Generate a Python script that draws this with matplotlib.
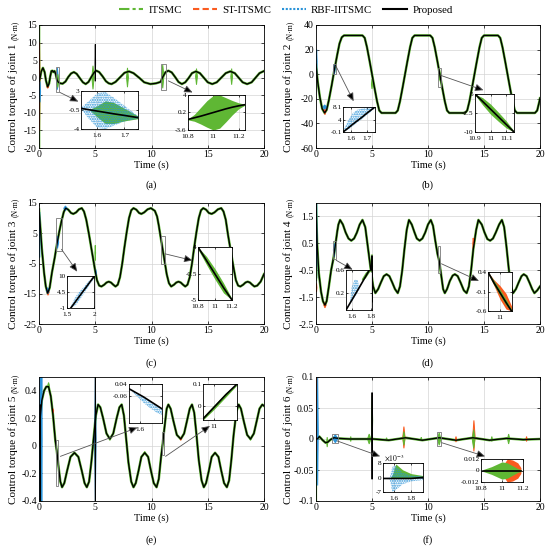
import numpy as np
import matplotlib.pyplot as plt
from matplotlib.patches import Rectangle
from matplotlib.lines import Line2D
from matplotlib.ticker import FuncFormatter

plt.rcParams['font.family'] = ['Liberation Serif', 'DejaVu Serif']
plt.rcParams['mathtext.fontset'] = 'stix'
plt.rcParams['axes.unicode_minus'] = False
plt.rcParams['hatch.linewidth'] = 1.0

methods = ['ITSMC', 'ST-ITSMC', 'RBF-IITSMC', 'Proposed']
colors = {'ITSMC': '#5fb734', 'ST-ITSMC': '#fa5b20', 'RBF-IITSMC': '#2a93d8', 'Proposed': 'black'}
lstyles = {'ITSMC': (0, (5, 1.5, 1.5, 1.5)), 'ST-ITSMC': (0, (3, 1.6)),
           'RBF-IITSMC': (0, (1, 0.8)), 'Proposed': '-'}
time_ticks = [0, 5, 10, 15, 20]

# ---- joint 1 ----
t1 = [0.0, 0.08, 0.2, 0.35, 0.5, 0.62, 0.77, 0.9, 1.0, 1.1, 1.2, 1.28, 1.38, 1.48, 1.6, 1.72, 1.9, 2.1,
      2.35, 2.6, 2.85, 3.1, 3.35, 3.6, 3.9, 4.15, 4.4, 4.65, 4.9, 5.1, 5.35, 5.65, 5.95, 6.2, 6.45, 6.8,
      7.2, 7.6, 8.0, 8.4, 8.9, 9.35, 9.9, 10.4, 10.8, 11.0, 11.25, 11.5, 11.8, 12.1, 12.4, 12.7, 13.0,
      13.3, 13.6, 13.95, 14.3, 14.65, 15.0, 15.4, 15.8, 16.2, 16.6, 17.0, 17.4, 17.75, 18.1, 18.5, 18.9,
      19.25, 19.6, 20.0]
tau1 = [-1.0, -0.3, 1.8, 2.8, 1.6, -0.8, -2.6, -1.6, 0.4, 1.9, 2.0, 1.6, 1.9, 1.1, -0.6, -1.3, -1.6, -1.7,
        -1.1, 0.2, 1.2, 1.6, 1.1, 0.0, -1.3, -1.8, -1.2, 0.2, 1.5, 2.0, 1.6, 0.4, -1.0, -1.6, -1.8, -1.2,
        0.1, 1.4, 1.8, 1.3, 0.0, -1.3, -1.8, -1.6, -1.2, 0.2, 1.6, 2.0, 1.5, 0.2, -1.2, -1.8, -1.3,
        -0.1, 1.3, 1.8, 1.3, 0.0, -1.3, -1.8, -1.3, 0.0, 1.3, 1.8, 1.3, 0.0, -1.3, -1.8, -1.3,
        0.0, 1.3, 1.9]
bursts1 = [('ITSMC', 0.02, 0.1, -20, 15), ('ST-ITSMC', 0.02, 0.08, -15, 10), ('RBF-IITSMC', 0.04, 0.14, -7, -1),
           ('ST-ITSMC', 0.7, 0.85, -3.0, -2.2), ('RBF-IITSMC', 1.55, 1.72, -3.4, 2.8), ('ITSMC', 1.6, 1.75, -2.8, 1.0),
           ('ITSMC', 4.7, 4.9, -3.3, 3.4), ('Proposed', 4.98, 5.03, -1.0, 9.5), ('ITSMC', 7.78, 7.95, -2.7, 2.8),
           ('ITSMC', 10.9, 11.1, -3.0, 3.7), ('ITSMC', 13.92, 14.08, -2.0, 2.6), ('ITSMC', 17.05, 17.2, -2.0, 2.6)]

# ---- joint 2 ----
t2 = [0.0, 0.15, 0.35, 0.55, 0.77, 0.95, 1.15, 1.4, 1.65, 1.9, 2.1, 2.3, 2.5,
      4.15, 4.35, 4.55, 4.8, 5.0, 5.2, 5.45, 5.65, 5.85,
      7.1, 7.3, 7.5, 7.75, 7.95, 8.15, 8.4, 8.6, 8.8,
      10.2, 10.4, 10.6, 10.85, 11.05, 11.25, 11.5, 11.7, 11.9,
      13.3, 13.5, 13.7, 13.95, 14.15, 14.35, 14.6, 14.8, 15.0,
      16.25, 16.45, 16.65, 16.9, 17.1, 17.3, 17.55, 17.75, 17.95,
      19.55, 19.75, 19.95, 20.0]
tau2 = [8, -6, -19, -28, -31.5, -29, -21, -9, 4, 16, 25, 30, 31.5,
        31.5, 29.5, 22, 10, 0, -10, -22, -29.5, -31.5,
        -31.5, -29.5, -22, -10, 0, 10, 22, 29.5, 31.5,
        31.5, 29.5, 22, 10, 0, -10, -22, -29.5, -31.5,
        -31.5, -29.5, -22, -10, 0, 10, 22, 29.5, 31.5,
        31.5, 29.5, 22, 10, 0, -10, -22, -29.5, -31.5,
        -31.5, -29.5, -22, -19.5]
bursts2 = [('RBF-IITSMC', 0.02, 0.1, 0, 20), ('ST-ITSMC', 0.7, 0.9, -33, -26), ('RBF-IITSMC', 0.6, 0.95, -28.5, -25),
           ('RBF-IITSMC', 1.55, 1.72, 0, 8), ('ITSMC', 4.95, 5.05, -12, -4), ('ITSMC', 10.95, 11.1, -5, 3)]

# ---- joint 3 ----
t3 = [0.0, 0.1, 0.25, 0.45, 0.6, 0.77, 0.95, 1.15, 1.4, 1.6, 1.8, 2.0, 2.2, 2.37,
      2.6, 2.85, 3.05, 3.3, 3.55, 3.8,
      4.0, 4.2, 4.45, 4.7, 4.95, 5.15, 5.35, 5.55,
      5.8, 6.0, 6.2, 6.4, 6.6, 6.8,
      7.0, 7.2, 7.4, 7.6, 7.8, 8.0, 8.2, 8.4,
      8.65, 8.9, 9.1, 9.35, 9.65, 9.95,
      10.3, 10.5, 10.65, 10.8, 11.0, 11.2, 11.35, 11.55, 11.75,
      12.0, 12.2, 12.4, 12.6, 12.8, 13.0,
      13.2, 13.4, 13.6, 13.8, 14.0, 14.2, 14.4, 14.6,
      14.85, 15.1, 15.35, 15.6, 15.9, 16.2,
      16.4, 16.6, 16.8, 17.05, 17.3, 17.5, 17.7, 17.9,
      18.15, 18.35, 18.55, 18.75, 18.95, 19.15,
      19.4, 19.7, 20.0]
tau3 = [13, 8, 0, -8, -12.5, -14.8, -13, -8, -3, 1.5, 5.5, 9, 12, 13.3,
        12.8, 11.7, 11.4, 11.9, 12.9, 13.3,
        12.2, 9.5, 4.5, -1.0, -6.5, -10.5, -12.3, -12.6,
        -12.0, -11.3, -11.0, -11.3, -12.0, -12.6,
        -12.0, -9.5, -5.0, 0.5, 5.5, 10.0, 12.6, 13.3,
        12.8, 11.7, 11.4, 11.9, 12.9, 13.3,
        12.4, 10.5, 7.5, 4.0, -0.5, -5.0, -8.5, -11.5, -12.6,
        -12.0, -11.3, -11.0, -11.3, -12.0, -12.6,
        -12.0, -9.5, -5.0, 0.5, 5.5, 10.0, 12.6, 13.3,
        12.8, 11.7, 11.4, 11.9, 12.9, 13.3,
        12.2, 9.5, 4.5, -1.0, -6.5, -10.5, -12.3, -12.6,
        -12.0, -11.3, -11.0, -11.3, -12.0, -12.6,
        -12.3, -11.0, -8.5]
bursts3 = [('RBF-IITSMC', 0.02, 0.1, -3, 12), ('ST-ITSMC', 0.7, 0.9, -15.5, -13.5), ('RBF-IITSMC', 0.65, 0.9, -15, -13),
           ('RBF-IITSMC', 1.55, 1.75, 0, 4), ('RBF-IITSMC', 2.2, 2.5, 12.5, 14), ('ITSMC', 4.97, 5.03, -4, 1),
           ('RBF-IITSMC', 5.0, 5.1, -9, -7)]

# ---- joint 4 ----
t4 = [0.0, 0.1, 0.25, 0.45, 0.62, 0.8, 0.95, 1.15, 1.35, 1.55, 1.7, 1.9, 2.0, 2.15, 2.4, 2.65, 2.9, 3.15,
      3.4, 3.65, 3.9, 4.15, 4.4, 4.65, 4.9, 5.1, 5.3, 5.55, 5.8, 6.05, 6.3, 6.55, 6.8, 7.05, 7.3, 7.5,
      7.7, 7.9, 8.1, 8.3, 8.55, 8.8, 9.0, 9.25, 9.5, 9.75, 10.0, 10.25, 10.45, 10.65, 10.85, 11.0,
      11.15, 11.35, 11.5, 11.7, 11.95, 12.2, 12.4, 12.65, 12.9, 13.2, 13.45, 13.65, 13.85, 14.05, 14.3,
      14.5, 14.8, 15.05, 15.3, 15.55, 15.8, 16.05, 16.35, 16.6, 16.8, 17.0, 17.2, 17.4, 17.6, 17.85,
      18.1, 18.35, 18.55, 18.8, 19.05, 19.3, 19.5, 19.75, 20.0]
tau4 = [2.0, 0.5, -0.6, -1.3, -1.65, -1.8, -1.65, -1.1, -0.5, -0.08, 0.35, 0.95, 1.2, 1.37, 1.2, 0.9, 0.68, 0.6,
        0.68, 0.9, 1.2, 1.37, 1.1, 0.3, -0.5, -1.1, -1.35, -1.2, -0.95, -0.72, -0.65, -0.72, -0.95, -1.2, -1.35, -1.1,
        -0.5, 0.3, 1.0, 1.37, 1.2, 0.9, 0.68, 0.6, 0.68, 0.9, 1.2, 1.37, 1.15, 0.6, 0.1, -0.15,
        -0.6, -1.2, -1.35, -1.2, -0.9, -0.7, -0.65, -0.72, -0.95, -1.25, -1.35, -1.1, -0.5, 0.3, 1.0,
        1.37, 1.2, 0.9, 0.66, 0.6, 0.68, 0.9, 1.2, 1.37, 1.1, 0.4, -0.4, -1.1, -1.35, -1.2,
        -0.95, -0.72, -0.65, -0.72, -0.95, -1.2, -1.35, -1.25, -1.1]
bursts4 = [('RBF-IITSMC', 0.02, 0.1, -0.8, 2.0), ('ITSMC', 0.02, 0.08, -0.9, -0.4), ('ST-ITSMC', 0.02, 0.08, -1.3, -1.0),
           ('ST-ITSMC', 0.7, 0.9, -1.9, -1.7), ('RBF-IITSMC', 1.55, 1.7, 0.0, 0.5), ('ITSMC', 4.95, 5.05, -0.8, 0.1),
           ('Proposed', 4.98, 5.02, -1.7, 0.05), ('ST-ITSMC', 14.0, 14.08, 0.3, 0.7)]

# ---- joint 5 ----
t5 = [0.0, 0.1, 0.25, 0.45, 0.65, 0.85, 1.05, 1.25, 1.45, 1.6, 1.75, 1.9, 2.05, 2.25, 2.5, 2.8, 3.15, 3.5,
      3.8, 4.05, 4.25, 4.45, 4.65, 4.85, 5.05, 5.25, 5.45, 5.7, 6.0, 6.3, 6.6, 6.9, 7.15, 7.35, 7.55, 7.75,
      7.95, 8.2, 8.4, 8.6, 8.85, 9.1, 9.4, 9.7, 9.95, 10.2, 10.45, 10.65, 10.85, 11.0, 11.15, 11.35, 11.5,
      11.7, 11.95, 12.25, 12.6, 12.9, 13.15, 13.4, 13.6, 13.8, 14.0, 14.2, 14.45, 14.65, 14.85, 15.1,
      15.35, 15.65, 15.95, 16.2, 16.45, 16.7, 16.9, 17.1, 17.3, 17.55, 17.75, 17.95, 18.2, 18.5, 18.8,
      19.1, 19.35, 19.6, 19.85, 20.0]
tau5 = [0.0, 0.2, 0.33, 0.4, 0.43, 0.43, 0.36, 0.22, 0.04, -0.05, -0.16, -0.26, -0.3, -0.27, -0.18, -0.08, -0.05, -0.08,
        -0.18, -0.27, -0.3, -0.26, -0.12, 0.05, 0.22, 0.3, 0.28, 0.2, 0.09, 0.05, 0.09, 0.2, 0.28, 0.3, 0.22, 0.05,
        -0.12, -0.26, -0.3, -0.27, -0.18, -0.08, -0.05, -0.08, -0.18, -0.27, -0.3, -0.24, -0.08, 0.02, 0.13, 0.27, 0.3,
        0.27, 0.18, 0.08, 0.05, 0.09, 0.18, 0.27, 0.3, 0.24, 0.08, -0.1, -0.25, -0.3, -0.27, -0.18,
        -0.08, -0.05, -0.08, -0.18, -0.27, -0.3, -0.25, -0.1, 0.08, 0.25, 0.3, 0.27, 0.18, 0.08, 0.05,
        0.09, 0.18, 0.27, 0.3, 0.29]
bursts5 = [('ST-ITSMC', 0.02, 0.08, 0.0, 0.5), ('RBF-IITSMC', 0.06, 0.13, -0.4, 0.5), ('Proposed', 0.09, 0.13, -0.4, 0.3),
           ('RBF-IITSMC', 0.22, 0.28, -0.4, 0.5), ('ITSMC', 0.78, 0.92, 0.42, 0.46), ('ST-ITSMC', 1.2, 1.3, 0.24, 0.27),
           ('RBF-IITSMC', 4.95, 5.07, -0.4, 0.5), ('Proposed', 4.98, 5.04, -0.4, 0.5),
           ('ITSMC', 6.25, 6.35, 0.04, 0.06), ('ITSMC', 9.35, 9.45, -0.06, -0.04),
           ('ST-ITSMC', 12.55, 12.65, 0.04, 0.06), ('ITSMC', 18.75, 18.85, 0.04, 0.06)]

# ---- joint 6 ----
t6 = [0.0, 0.12, 0.3, 0.6, 0.85, 1.05, 1.3, 1.6, 2.0, 3.0, 4.0, 4.9, 5.0, 5.1, 6.5, 8.0, 9.5, 11.0, 12.5,
      14.0, 15.5, 17.0, 18.5, 20.0]
tau6 = [0.0, 0.0, 0.004, -0.002, -0.006, -0.005, -0.001, 0.002, 0.001, 0.0, 0.0, 0.0, 0.0, 0.0, -0.002, 0.002,
        -0.002, 0.002, -0.002, 0.002, -0.002, 0.001, -0.001, 0.0]
bursts6 = [('ITSMC', 0.02, 0.08, -0.1, 0.1), ('ST-ITSMC', 0.06, 0.12, -0.02, 0.1), ('RBF-IITSMC', 0.1, 0.2, -0.075, 0.1),
           ('ITSMC', 0.95, 1.05, -0.013, 0.003), ('RBF-IITSMC', 1.5, 1.95, -0.006, 0.007), ('ITSMC', 3.05, 3.15, -0.004, 0.004),
           ('ITSMC', 4.6, 4.9, -0.008, 0.008), ('ITSMC', 4.96, 5.06, -0.01, 0.07), ('Proposed', 4.98, 5.03, -0.065, 0.075),
           ('ITSMC', 6.25, 6.35, -0.003, 0.002), ('ST-ITSMC', 7.75, 7.95, -0.015, 0.02), ('ITSMC', 7.75, 7.95, -0.01, 0.012),
           ('ITSMC', 9.35, 9.45, -0.003, 0.003), ('ITSMC', 10.85, 11.15, -0.01, 0.01), ('ST-ITSMC', 12.45, 12.55, -0.005, 0.004),
           ('ST-ITSMC', 14.0, 14.2, -0.02, 0.03), ('ITSMC', 13.95, 14.2, -0.015, 0.015), ('ITSMC', 15.65, 15.75, -0.004, 0.004),
           ('ITSMC', 17.1, 17.3, -0.008, 0.008), ('ST-ITSMC', 18.75, 18.85, -0.004, 0.004)]

ylims = [(-20, 15), (-60, 40), (-25, 15), (-2.5, 2), (-0.4, 0.5), (-0.1, 0.1)]
yticks = [[-20, -15, -10, -5, 0, 5, 10, 15], [-60, -40, -20, 0, 20, 40], [-25, -15, -5, 5, 15],
          [-2.5, -1.5, -0.5, 0.5, 1.5], [-0.4, -0.2, 0, 0.2, 0.4], [-0.1, -0.05, 0, 0.05, 0.1]]
panel_tags = ['(a)', '(b)', '(c)', '(d)', '(e)', '(f)']

# ---- zoomed windows ----
a1_t = [1.54, 1.57, 1.6, 1.63, 1.66, 1.7, 1.75]
a1_black = [-0.2, -0.45, -0.7, -0.95, -1.2, -1.5, -1.9]
a1_rbf_hi = [-0.1, 1.2, 2.6, 2.8, 1.8, 0.3, -1.6]
a1_rbf_lo = [-0.3, -2.2, -3.8, -4.0, -3.4, -2.6, -2.1]
a1_it_hi = [-0.2, -0.45, 0.3, 1.2, 0.9, -0.2, -1.6]
a1_it_lo = [-0.2, -0.45, -1.8, -3.0, -3.0, -2.5, -2.1]

a2_t = [10.8, 10.85, 10.9, 10.95, 11.0, 11.05, 11.1, 11.15, 11.2, 11.25]
a2_black = [-1.3, -0.95, -0.6, -0.2, 0.2, 0.6, 1.0, 1.35, 1.65, 1.9]
a2_it_hi = [-1.2, -0.2, 1.3, 2.8, 3.9, 4.0, 3.4, 2.8, 2.3, 2.0]
a2_it_lo = [-1.4, -1.7, -2.3, -3.0, -3.6, -3.2, -1.8, -0.3, 1.0, 1.8]

b1_t = [1.55, 1.58, 1.61, 1.64, 1.67, 1.7, 1.73, 1.75]
b1_black = [-0.1, 1.1, 2.4, 3.6, 4.8, 6.1, 7.3, 8.1]
b1_rbf_hi = [0.2, 3.5, 6.0, 7.2, 7.6, 8.0, 8.1, 8.1]
b1_rbf_lo = [-0.1, 0.6, 1.8, 3.0, 4.2, 5.5, 6.8, 7.8]

b2_t = [10.9, 10.95, 11.0, 11.05, 11.1, 11.15]
b2_black = [5.0, 2.0, -1.0, -4.0, -7.0, -10.0]
b2_it_hi = [5.0, 3.5, 1.0, -2.2, -5.6, -9.6]
b2_it_lo = [4.6, 0.6, -3.0, -5.8, -8.4, -10.0]

c1_t = [1.57, 1.65, 1.7, 1.8, 1.9, 2.0]
c1_black = [-1.0, 1.0, 2.3, 4.8, 7.3, 9.8]
c1_rbf_hi = [-0.5, 2.6, 4.0, 6.0, 8.2, 10.0]
c1_rbf_lo = [-1.0, -0.2, 0.8, 3.6, 6.4, 9.2]

c2_t = [10.8, 10.9, 11.0, 11.1, 11.2]
c2_black = [4.0, 1.7, -0.6, -2.9, -5.0]
c2_it_hi = [4.0, 2.4, 0.3, -2.1, -4.8]
c2_it_lo = [3.6, 1.0, -1.5, -3.8, -5.0]
c2_st_hi = [3.9, 1.9, 0.1, -2.6, -5.0]
c2_st_lo = [3.9, 1.5, -1.2, -3.2, -5.0]

d1_t = [1.54, 1.68, 1.81]
d1_black = [-0.1, 0.3, 0.68]
d1_rbf_t = [1.58, 1.6, 1.63, 1.66, 1.68]
d1_rbf_hi = [0.03, 0.3, 0.43, 0.42, 0.3]
d1_rbf_lo = [0.0, 0.05, 0.12, 0.2, 0.26]
d1_it_t = [1.7, 1.74, 1.78, 1.81]
d1_it_hi = [0.45, 0.56, 0.62, 0.62]
d1_it_lo = [0.42, 0.46, 0.56, 0.6]

d2_t = [10.9, 10.95, 11.0, 11.05, 11.1]
d2_black = [0.4, 0.12, -0.13, -0.38, -0.62]
d2_st_hi = [0.4, 0.2, 0.05, -0.15, -0.5]
d2_st_lo = [0.38, 0.05, -0.3, -0.55, -0.6]
d2_it_hi = [0.4, 0.18, -0.05, -0.3, -0.58]
d2_it_lo = [0.36, 0.06, -0.2, -0.45, -0.62]

e1_t = [1.54, 1.58, 1.62, 1.66, 1.7, 1.72]
e1_black = [0.0, -0.035, -0.07, -0.11, -0.15, -0.17]
e1_rbf_lo = [0.0, -0.06, -0.12, -0.17, -0.21, -0.22]

e2_t = [10.95, 11.0, 11.05, 11.1]
e2_black = [-0.06, -0.005, 0.05, 0.1]
e2_it_hi = [-0.05, 0.005, 0.06, 0.1]
e2_it_lo = [-0.065, -0.015, 0.04, 0.095]

f1_t = [1.47, 1.55, 1.58, 1.62, 1.7, 1.8, 1.94]
f1_black = [0, 0, 0, 0, 0, 0, 0.0005]
f1_rbf_hi = [0, 0.0005, 0.006, 0.0065, 0.003, 0.0015, 0.001]
f1_rbf_lo = [0, -0.0005, -0.007, -0.006, -0.003, -0.0015, -0.0008]
f1_it_hi = [0, 0, 0.002, 0.0075, 0.0045, 0.0025, 0.0015]

f2_t = [10.82, 10.9, 11.0, 11.05, 11.1, 11.15, 11.18]
f2_black = [0, 0, 0, 0, 0, 0, 0]
f2_it_hi = [0.001, 0.004, 0.009, 0.008, 0.005, 0.002, 0.001]
f2_st_hi = [0.0, 0.0, 0.004, 0.012, 0.011, 0.008, 0.003]

W, H = 550, 549
fig = plt.figure(figsize=(W / 100, H / 100), dpi=100)
fmt = FuncFormatter(lambda v, p: f'{v:g}')


def px_axes(l, t, r, b):
    return fig.add_axes([l / W, 1 - b / H, (r - l) / W, (b - t) / H])


def style(ax, fs, tl=2.5, pad=1.5):
    ax.tick_params(direction='in', length=tl, width=0.5, labelsize=fs, top=True, right=True, pad=pad)
    for s in ax.spines.values():
        s.set_linewidth(0.6)
    ax.grid(True, color='#d4d4d4', lw=0.5)
    ax.set_axisbelow(True)


def plot_joint(ax, t, tau, bursts):
    ax.plot(t, tau, color=colors['ITSMC'], lw=1.8, zorder=2.2)
    for m, ta, tb, lo, hi in bursts:
        mid = (lo + hi) / 2
        z = 4 if m == 'Proposed' else 2.5
        ax.fill([ta, (ta + tb) / 2, tb, (ta + tb) / 2], [mid, hi, mid, lo],
                color=colors[m], lw=0.7, zorder=z)
    ax.plot(t, tau, color='black', lw=1.0, zorder=3)


def joint_ylabel(ax, n, off_px):
    fig.canvas.draw()
    r = fig.canvas.get_renderer()
    bb = ax.get_window_extent(r)
    x = -off_px / bb.width
    main = ax.text(x, 0, f'Control torque of joint {n}', rotation=90, fontsize=8,
                   transform=ax.transAxes, ha='center', va='bottom')
    unit = ax.text(x, 0, '(N·m)', rotation=90, fontsize=5.5,
                   transform=ax.transAxes, ha='center', va='bottom')
    fig.canvas.draw()
    hm = main.get_window_extent(r).height
    hu = unit.get_window_extent(r).height
    gap = 3
    y0 = (bb.height - (hm + gap + hu)) / 2
    main.set_y(y0 / bb.height)
    unit.set_y((y0 + hm + gap) / bb.height)
    unit.set_x(x + 1.5 / bb.width)


def add_inset(ax, rect, xlim, ylim, xt, yt, t, black, bands, arrow_from, arrow_to, ytl=None):
    ins = px_axes(*rect)
    style(ins, 5.2, tl=1.5, pad=1)
    ins.tick_params(axis='x', pad=2.8)
    for m, tb, hi, lo in bands:
        if m == 'RBF-IITSMC':
            ins.fill_between(tb, lo, hi, facecolor='none', edgecolor=colors[m], hatch='.......', lw=0)
        else:
            ins.fill_between(tb, lo, hi, color=colors[m], lw=0)
    ins.plot(t, black, color='k', lw=1.2)
    ins.set_xlim(xlim)
    ins.set_ylim(ylim)
    ins.set_xticks(xt)
    ins.set_yticks(yt)
    ins.xaxis.set_major_formatter(fmt)
    if ytl is None:
        ins.yaxis.set_major_formatter(fmt)
    else:
        ins.set_yticklabels(ytl)
    ax.add_patch(Rectangle((xlim[0], ylim[0]), xlim[1] - xlim[0], ylim[1] - ylim[0],
                           fill=False, ec='#777777', lw=0.6, zorder=5))
    ax.annotate('', xy=arrow_to, xytext=arrow_from, zorder=6,
                arrowprops=dict(arrowstyle='-|>,head_length=0.5,head_width=0.22', fc='k', ec='#555555',
                                lw=0.6, shrinkA=0, shrinkB=0))
    return ins


rects = [(39, 25, 264, 148), (316, 25, 540, 148), (39, 203, 264, 324),
         (316, 203, 540, 324), (39, 377, 264, 501), (316, 377, 540, 501)]
series = [(t1, tau1, bursts1), (t2, tau2, bursts2), (t3, tau3, bursts3),
          (t4, tau4, bursts4), (t5, tau5, bursts5), (t6, tau6, bursts6)]
tag_y = [185, 185, 363, 363, 540, 540]

axes = []
for i in range(6):
    ax = px_axes(*rects[i])
    style(ax, 7)
    t, tau, bursts = series[i]
    plot_joint(ax, t, tau, bursts)
    ax.set_xlim(0, 20)
    ax.set_ylim(ylims[i])
    ax.set_xticks(time_ticks)
    ax.set_yticks(yticks[i])
    ax.xaxis.set_major_formatter(fmt)
    ax.yaxis.set_major_formatter(fmt)
    ax.set_xlabel('Time (s)', fontsize=7.5, labelpad=1)
    cx = (rects[i][0] + rects[i][2]) / 2 / W
    fig.text(cx, 1 - tag_y[i] / H, panel_tags[i], ha='center', va='center', fontsize=7.5)
    axes.append(ax)

for i, ax in enumerate(axes):
    joint_ylabel(ax, i + 1, 26 if i % 2 == 0 else 28)

ax_a, ax_b, ax_c, ax_d, ax_e, ax_f = axes

add_inset(ax_a, (81, 91, 138, 129), (1.54, 1.75), (-4, 3), [1.6, 1.7], [-4, -0.5, 3], a1_t, a1_black,
          [('ITSMC', a1_t, a1_it_hi, a1_it_lo), ('RBF-IITSMC', a1_t, a1_rbf_hi, a1_rbf_lo)], (1.87, -4.2), (3.5, -6.8))
add_inset(ax_a, (188, 95, 245, 130), (10.8, 11.25), (-3.6, 4), [10.8, 11, 11.2], [-3.6, 0.2, 4], a2_t, a2_black,
          [('ITSMC', a2_t, a2_it_hi, a2_it_lo)], (11.5, -0.9), (13.65, -4.2))
add_inset(ax_b, (343, 107, 375, 132), (1.55, 1.75), (-0.1, 8.1), [1.6, 1.7], [-0.1, 4, 8.1], b1_t, b1_black,
          [('RBF-IITSMC', b1_t, b1_rbf_hi, b1_rbf_lo)], (1.78, 6.6), (3.36, -22))
add_inset(ax_b, (475, 94, 514, 132), (10.9, 11.15), (-10, 5), [10.9, 11, 11.1], [-10, -2.5, 5], b2_t, b2_black,
          [('ITSMC', b2_t, b2_it_hi, b2_it_lo)], (11.15, -1), (14.95, -13))
add_inset(ax_c, (67, 276, 94, 308), (1.5, 2.0), (-1, 10), [1.5, 2], [-1, 4.5, 10], c1_t, c1_black,
          [('RBF-IITSMC', c1_t, c1_rbf_hi, c1_rbf_lo)], (2.0, -0.3), (3.4, -7.7))
add_inset(ax_c, (198, 247, 232, 300), (10.8, 11.2), (-5, 4), [10.8, 11, 11.2], [-5, -0.5, 4], c2_t, c2_black,
          [('ST-ITSMC', c2_t, c2_st_hi, c2_st_lo), ('ITSMC', c2_t, c2_it_hi, c2_it_lo)], (11.2, -1.8), (13.65, -4))
add_inset(ax_d, (346, 270, 372, 310), (1.54, 1.81), (-0.1, 0.6), [1.6, 1.8], [0.2, 0.6], d1_t, d1_black,
          [('RBF-IITSMC', d1_rbf_t, d1_rbf_hi, d1_rbf_lo), ('ITSMC', d1_it_t, d1_it_hi, d1_it_lo)],
          (1.8, -0.13), (3.27, -0.48))
add_inset(ax_d, (488, 272, 512, 311), (10.9, 11.1), (-0.6, 0.4), [11], [-0.6, -0.1, 0.4], d2_t, d2_black,
          [('ST-ITSMC', d2_t, d2_st_hi, d2_st_lo), ('ITSMC', d2_t, d2_it_hi, d2_it_lo)], (11.2, -0.26), (14.55, -0.9))
add_inset(ax_e, (129, 384, 162, 423), (1.54, 1.72), (-0.29, 0.04), [1.6], [0.04, -0.06], e1_t, e1_black,
          [('RBF-IITSMC', e1_t, e1_black, e1_rbf_lo)], (1.9, -0.076), (8.75, 0.133))
add_inset(ax_e, (203, 384, 237, 420), (10.95, 11.1), (-0.065, 0.1), [11], [0, 0.1], e2_t, e2_black,
          [('ITSMC', e2_t, e2_it_hi, e2_it_lo)], (11.25, -0.076), (15.2, 0.145))
ins_f1 = add_inset(ax_f, (383, 463, 423, 492), (1.47, 1.94), (-0.007, 0.008), [1.6, 1.8], [-0.007, 0, 0.008],
                   f1_t, f1_black, [('ITSMC', f1_t, f1_it_hi, f1_black), ('RBF-IITSMC', f1_t, f1_rbf_hi, f1_rbf_lo)],
                   (1.87, -0.003), (5.73, -0.028), ytl=['-7', '0', '8'])
ins_f1.text(0.02, 1.0, r'$\times10^{-3}$', transform=ins_f1.transAxes, fontsize=5.5, va='bottom')
add_inset(ax_f, (481, 459, 523, 482), (10.8, 11.2), (-0.012, 0.012), [10.8, 11, 11.2], [-0.012, 0, 0.012],
          f2_t, f2_black, [('ST-ITSMC', f2_t, f2_st_hi, [-v for v in f2_st_hi]),
                           ('ITSMC', f2_t, f2_it_hi, [-v for v in f2_it_hi])],
          (11.23, -0.006), (15.1, -0.028))

handles = [Line2D([], [], color=colors[m], ls=lstyles[m], lw=1.5) for m in methods]
fig.legend(handles, methods, loc='upper center', bbox_to_anchor=(0.52, 1.008), ncol=4, frameon=False,
           fontsize=7.8, handlelength=2.2, columnspacing=1.0, handletextpad=0.5)

fig.savefig('out.png', dpi=100, facecolor='white')
